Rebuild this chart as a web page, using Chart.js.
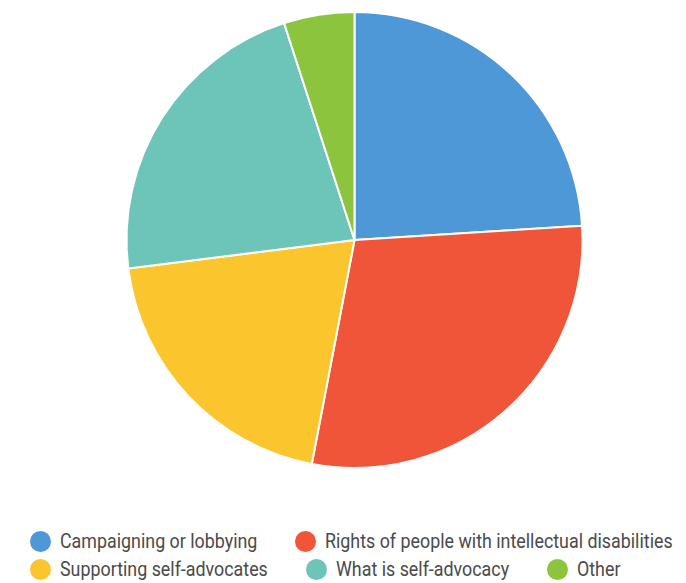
<!DOCTYPE html>
<html>
<head>
<meta charset="utf-8">
<script src="https://cdn.jsdelivr.net/npm/chart.js@4.4.0/dist/chart.umd.min.js"></script>
<style>
  html, body { margin: 0; padding: 0; background: #fff; }
  #wrap { position: relative; width: 686px; height: 583px; overflow: hidden; }
  #pie-box { position: absolute; left: 0; top: 0; width: 686px; height: 480px; }
  #legend {
    position: absolute; left: 30px; top: 530px; width: 660px;
    display: flex; flex-wrap: wrap; column-gap: 38px; row-gap: 6px;
    font-family: 'Roboto', sans-serif;
    font-size: 21px; color: #4a4a4a; line-height: 22px;
  }
  #legend .item { display: flex; align-items: center; white-space: nowrap; }
  #legend .dot { width: 21px; height: 21px; border-radius: 50%; margin-right: 9px; flex: none; }
  #legend .txt { display: inline-block; transform: scaleX(0.85); transform-origin: 0 50%; }
</style>
</head>
<body>
<div id="wrap">
  <div id="pie-box"><canvas id="grafico-temas"></canvas></div>
  <div id="legend"></div>
</div>
<script>
const categorias = [
  'Campaigning or lobbying',
  'Rights of people with intellectual disabilities',
  'Supporting self-advocates',
  'What is self-advocacy',
  'Other'
];
const porcentajes = [24, 29, 20, 22, 5];
const colores = ['#4e98d8', '#f0553a', '#fbc52e', '#6cc5b8', '#8cc43e'];

const ESCALA_TEXTO = 0.85;

const ctx = document.getElementById('grafico-temas').getContext('2d');
const grafico = new Chart(ctx, {
  type: 'pie',
  data: {
    labels: categorias,
    datasets: [{
      data: porcentajes,
      backgroundColor: colores,
      borderColor: '#ffffff',
      borderWidth: 2
    }]
  },
  options: {
    responsive: true,
    maintainAspectRatio: false,
    animation: false,
    radius: 228,
    layout: { padding: { left: 23 } },
    plugins: {
      legend: { display: false },
      tooltip: { enabled: false }
    }
  }
});

// leyenda en HTML, armada con los datos del gráfico (texto angostado)
const leyenda = document.getElementById('legend');
grafico.data.labels.forEach((nombre, i) => {
  const item = document.createElement('div');
  item.className = 'item';
  const dot = document.createElement('span');
  dot.className = 'dot';
  dot.style.background = grafico.data.datasets[0].backgroundColor[i];
  const txt = document.createElement('span');
  txt.className = 'txt';
  txt.textContent = nombre;
  item.appendChild(dot);
  item.appendChild(txt);
  leyenda.appendChild(item);
});
leyenda.querySelectorAll('.txt').forEach(t => {
  t.style.marginRight = `${-t.offsetWidth * (1 - ESCALA_TEXTO)}px`;
});
</script>
</body>
</html>
